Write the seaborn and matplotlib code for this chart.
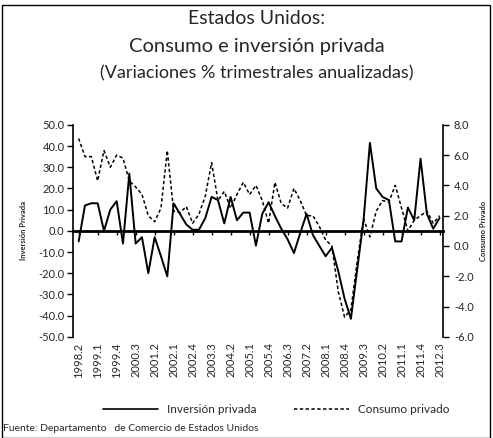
import matplotlib
matplotlib.use("Agg")
import matplotlib.pyplot as plt
import seaborn as sns
import pandas as pd
from matplotlib.lines import Line2D
from matplotlib.patches import Rectangle

quarters = [
    "1998.2", "1998.3", "1998.4", "1999.1", "1999.2", "1999.3", "1999.4",
    "2000.1", "2000.2", "2000.3", "2000.4", "2001.1", "2001.2", "2001.3",
    "2001.4", "2002.1", "2002.2", "2002.3", "2002.4", "2003.1", "2003.2",
    "2003.3", "2003.4", "2004.1", "2004.2", "2004.3", "2004.4", "2005.1",
    "2005.2", "2005.3", "2005.4", "2006.1", "2006.2", "2006.3", "2006.4",
    "2007.1", "2007.2", "2007.3", "2007.4", "2008.1", "2008.2", "2008.3",
    "2008.4", "2009.1", "2009.2", "2009.3", "2009.4", "2010.1", "2010.2",
    "2010.3", "2010.4", "2011.1", "2011.2", "2011.3", "2011.4", "2012.1",
    "2012.2", "2012.3",
]

# Inversion privada (left axis)
inversion = [
    -5, 12, 13, 13, 0, 10, 14, -6, 27, -6,
    -3, -20, -3, -12, -21.5, 13, 8, 3, 0.5, 0.5,
    6, 16, 14.5, 3.5, 16, 5, 8.6, 8.6, -7, 8,
    13.5, 7, 1, -4, -10.5, -1, 8, -2, -7, -12,
    -8, -19, -32, -41.5, -18, 5, 41.5, 20, 16, 14.5,
    -5, -5, 11, 5, 34, 8, 1, 6,
]

# Consumo privado (right axis)
consumo = [
    7.1, 5.9, 5.9, 4.3, 6.3, 5.2, 6.0, 5.8, 4.3, 3.9,
    3.4, 2.0, 1.6, 2.5, 6.3, 2.3, 2.2, 2.6, 1.5, 2.1,
    3.3, 5.5, 3.0, 3.6, 2.5, 3.4, 4.2, 3.4, 4.0, 3.0,
    1.5, 4.2, 2.8, 2.5, 3.8, 3.0, 2.0, 2.0, 1.3, 0.4,
    0.0, -3.0, -4.7, -4.2, -1.0, 1.8, 0.6, 2.3, 3.0, 2.9,
    4.0, 2.5, 1.0, 1.7, 2.0, 2.3, 1.5, 2.0,
]

tick_labels = quarters[::3]

df = pd.DataFrame({"idx": range(len(quarters)), "trimestre": quarters,
                   "inversion": inversion, "consumo": consumo})

sns.set_theme(style="white")
plt.rcParams["font.family"] = ["Lato", "DejaVu Sans"]

fig = plt.figure(figsize=(4.93, 4.38), dpi=100)
ax = fig.add_axes([0.148, 0.231, 0.75, 0.484])
ax2 = ax.twinx()

sns.lineplot(data=df, x="idx", y="inversion", ax=ax, color="black", lw=1.4)
sns.lineplot(data=df, x="idx", y="consumo", ax=ax2, color="black", lw=1.1,
             linestyle=(0, (2.2, 1.6)))

ax.set_xlim(-0.9, 57.5)
ax.set_ylim(-50, 50)
ax2.set_ylim(-6, 8)
ax.set_yticks(range(-50, 51, 10))
ax.set_yticklabels([f"{v:.1f}" for v in range(-50, 51, 10)], fontsize=8)
ax2.set_yticks(range(-6, 9, 2))
ax2.set_yticklabels([f"{v:.1f}" for v in range(-6, 9, 2)], fontsize=8)

for a in (ax, ax2):
    a.spines["top"].set_visible(False)
    a.grid(False)
    a.set_xlabel("")
ax.spines["right"].set_visible(False)
ax2.spines["left"].set_visible(False)
ax2.spines["bottom"].set_visible(False)
ax.spines["left"].set_color("black")
ax.spines["left"].set_linewidth(1.2)
ax2.spines["right"].set_color("black")
ax2.spines["right"].set_linewidth(1.2)

# bold zero line with ticks
ax.spines["bottom"].set_position(("data", 0))
ax.spines["bottom"].set_color("black")
ax.spines["bottom"].set_linewidth(2)
tick_pos = list(range(0, len(quarters), 3))
ax.set_xticks(tick_pos)
ax.tick_params(axis="x", bottom=True, direction="out", length=3, width=1,
               color="black", labelbottom=False)
ax.tick_params(axis="y", left=True, direction="out", length=4, width=1,
               color="black", pad=2)
ax2.tick_params(axis="y", right=True, direction="out", length=4, width=1,
                color="black", pad=4)

sec = ax.secondary_xaxis("bottom")
sec.set_xticks(tick_pos)
sec.set_xticklabels(tick_labels, rotation=90, fontsize=8)
sec.tick_params(length=0, pad=4)
sec.spines["bottom"].set_visible(False)

ax.set_ylabel("Inversión Privada", fontsize=5.5, fontweight="bold")
ax.yaxis.set_label_coords(-0.125, 0.5)
ax2.set_ylabel("Consumo Privado", fontsize=5.5, fontweight="bold", rotation=90)
ax2.yaxis.set_label_coords(1.1, 0.5)

fig.text(0.52, 0.958, "Estados Unidos:", ha="center", va="center", fontsize=14)
fig.text(0.52, 0.893, "Consumo e inversión privada", ha="center", va="center",
         fontsize=14.5)
fig.text(0.52, 0.833, "(Variaciones % trimestrales anualizadas)", ha="center",
         va="center", fontsize=13)

handles = [Line2D([], [], color="black", lw=1.2),
           Line2D([], [], color="black", lw=1.1, linestyle=(0, (2.2, 1.6)))]
fig.legend(handles, ["Inversión privada", "Consumo privado"], loc="center",
           bbox_to_anchor=(0.56, 0.064), ncol=2, frameon=False, fontsize=8.5,
           handlelength=4.7, handletextpad=0.7, columnspacing=3.2)

fig.text(0.006, 0.022, "Fuente: Departamento   de Comercio de Estados Unidos",
         fontsize=7.5, ha="left", va="center")

fig.patches.append(Rectangle((0.004, 0.0), 0.99, 0.988, transform=fig.transFigure,
                             fill=False, edgecolor="black", lw=1))

fig.savefig("out.png", dpi=100)
